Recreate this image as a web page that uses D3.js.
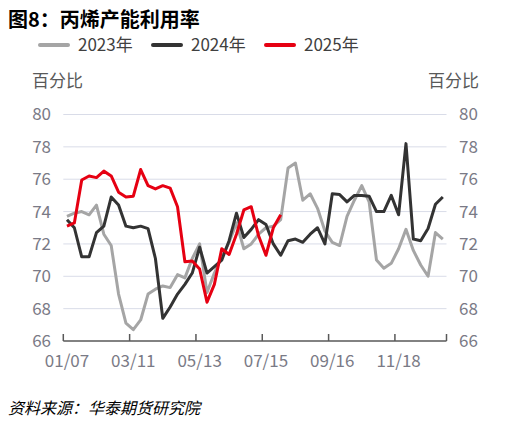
<!DOCTYPE html>
<html>
<head>
<meta charset="utf-8">
<script src="https://cdn.jsdelivr.net/npm/d3@7"></script>
<style>
  body { margin: 0; background: #fff; }
  svg { display: block; font-family: "Noto Sans CJK SC", "Noto Sans", sans-serif; }
</style>
</head>
<body>
<svg id="chart"></svg>
<script>
const weeks = [
  "01/07","01/14","01/21","01/28","02/04","02/11","02/18","02/25","03/04","03/11",
  "03/18","03/25","04/01","04/08","04/15","04/22","04/29","05/06","05/13","05/20",
  "05/27","06/03","06/10","06/17","06/24","07/01","07/08","07/15","07/22","07/29",
  "08/05","08/12","08/19","08/26","09/02","09/09","09/16","09/23","09/30","10/07",
  "10/14","10/21","10/28","11/04","11/11","11/18","11/25","12/02","12/09","12/16",
  "12/23","12/30"
];
const tickLabels = ["01/07", "03/11", "05/13", "07/15", "09/16", "11/18"];
const yTicks = [66, 68, 70, 72, 74, 76, 78, 80];

const rate2023 = [
  73.7, 73.9, 74.0, 73.8, 74.4, 72.6, 71.9, 68.9, 67.1, 66.7,
  67.3, 68.9, 69.2, 69.4, 69.3, 70.1, 69.9, 71.1, 72.0, 69.0,
  70.2, 71.2, 72.1, 73.3, 71.7, 72.0, 72.6, 73.0, 73.1, 73.5,
  76.7, 77.0, 74.7, 75.1, 74.2, 72.8, 72.1, 71.9, 73.7, 74.7,
  75.6, 74.6, 71.0, 70.5, 70.8, 71.7, 72.9, 71.6, 70.7, 70.0,
  72.7, 72.3
];
const rate2024 = [
  73.5, 73.0, 71.2, 71.2, 72.7, 73.1, 74.9, 74.4, 73.1, 73.0,
  73.1, 72.95, 71.1, 67.4, 68.1, 68.9, 69.5, 70.2, 71.8, 70.2,
  70.6, 71.0, 72.2, 73.9, 72.4, 72.9, 73.5, 73.2, 72.0, 71.3,
  72.2, 72.3, 72.1, 72.6, 73.0, 72.0, 75.1, 75.05, 74.6, 75.0,
  75.0, 74.95, 74.0, 74.0, 75.0, 73.8, 78.2, 72.3, 72.2, 72.95,
  74.45, 74.9
];
const rate2025 = [
  73.1, 73.3, 75.95, 76.2, 76.1, 76.5, 76.2, 75.2, 74.9, 74.95,
  76.6, 75.6, 75.4, 75.6, 75.45, 74.3, 70.9, 70.95, 70.45, 68.4,
  69.5, 71.7, 71.35, 72.6, 74.1, 74.3, 72.5, 71.3, 73.0, 73.8
];

const series = [
  { name: "2023年", values: rate2023, color: "#a5a5a5" },
  { name: "2024年", values: rate2024, color: "#333333" },
  { name: "2025年", values: rate2025, color: "#e60012" }
];

const width = 519, height = 426;
const plot = { left: 63.3, right: 446.5, top: 114.5, bottom: 341 };

const svg = d3.select("#chart").attr("width", width).attr("height", height);

const x = d3.scaleBand().domain(weeks).range([plot.left, plot.right]).padding(0);
const y = d3.scaleLinear().domain([66, 80]).range([plot.bottom, plot.top]);
const cx = d => x(d) + x.bandwidth() / 2;

// title
svg.append("text")
  .attr("x", 8).attr("y", 27)
  .style("font-size", "20px").style("font-weight", "bold").style("fill", "#000")
  .text("图8：丙烯产能利用率");

// legend
const legend = svg.append("g").attr("transform", "translate(40,45)");
series.forEach((s, i) => {
  const lx = i * 113;
  legend.append("line")
    .attr("x1", lx).attr("x2", lx + 28).attr("y1", 0).attr("y2", 0)
    .attr("stroke", s.color).attr("stroke-width", 4).attr("stroke-linecap", "round");
  legend.append("text")
    .attr("x", lx + 38).attr("y", 6)
    .style("font-size", "17px").style("fill", "#404040")
    .text(s.name);
});

// unit labels
svg.append("text").attr("x", 32).attr("y", 87)
  .style("font-size", "17px").style("fill", "#595959").text("百分比");
svg.append("text").attr("x", 479).attr("y", 87).attr("text-anchor", "end")
  .style("font-size", "17px").style("fill", "#595959").text("百分比");

// grid
svg.append("g").selectAll("line")
  .data(yTicks.filter(v => v > 66))
  .join("line")
  .attr("x1", plot.left).attr("x2", plot.right)
  .attr("y1", d => y(d)).attr("y2", d => y(d))
  .attr("stroke", "#d9dce8").attr("stroke-width", 1);

// y tick labels, both sides
const tickColor = "#7a7a86";
svg.append("g").selectAll("text")
  .data(yTicks).join("text")
  .attr("x", 51).attr("y", d => y(d)).attr("dy", "0.35em")
  .attr("text-anchor", "end")
  .style("font-size", "17px").style("fill", tickColor)
  .text(d => d);
svg.append("g").selectAll("text")
  .data(yTicks).join("text")
  .attr("x", 459).attr("y", d => y(d)).attr("dy", "0.35em")
  .style("font-size", "17px").style("fill", tickColor)
  .text(d => d);

// lines
const line = d3.line()
  .x((d, i) => cx(weeks[i]))
  .y(d => y(d));

svg.append("g").selectAll("path")
  .data(series).join("path")
  .attr("d", d => line(d.values))
  .attr("fill", "none")
  .attr("stroke", d => d.color)
  .attr("stroke-width", 3)
  .attr("stroke-linejoin", "round");

// x axis
const axis = svg.append("g");
axis.append("line")
  .attr("x1", plot.left).attr("x2", plot.right)
  .attr("y1", plot.bottom).attr("y2", plot.bottom)
  .attr("stroke", "#595959").attr("stroke-width", 1.5);
const tickX = tickLabels.map(d => x(d)).concat([plot.right]);
axis.selectAll(".tick")
  .data(tickX).join("line")
  .attr("class", "tick")
  .attr("x1", d => d).attr("x2", d => d)
  .attr("y1", plot.bottom).attr("y2", plot.bottom - 7)
  .attr("stroke", "#595959").attr("stroke-width", 1.5);
axis.selectAll(".lbl")
  .data(tickLabels).join("text")
  .attr("class", "lbl")
  .attr("x", d => cx(d)).attr("y", 367)
  .attr("text-anchor", "middle")
  .style("font-size", "17px").style("fill", tickColor)
  .text(d => d);

// source
svg.append("text")
  .attr("x", 8).attr("y", 414)
  .style("font-size", "16px").style("font-style", "italic").style("fill", "#000")
  .text("资料来源：华泰期货研究院");
</script>
</body>
</html>
